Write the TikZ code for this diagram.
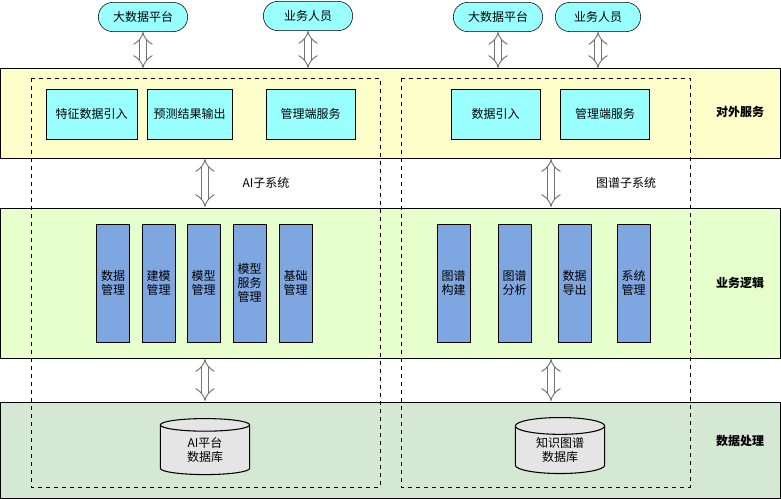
\documentclass[tikz,border=0pt]{standalone}
\usepackage{fontspec}
\setmainfont{Noto Sans CJK SC}
\usetikzlibrary{arrows.meta,shapes.geometric}
\definecolor{cy}{HTML}{99FFFF}
\definecolor{yel}{HTML}{FFFFCC}
\definecolor{lg}{HTML}{E6FFCC}
\definecolor{dg}{HTML}{D5E8D4}
\definecolor{bl}{HTML}{7EA6E0}
\begin{document}
\begin{tikzpicture}[x=0.75pt,y=-0.75pt,font=\fontsize{9pt}{10.5pt}\selectfont,
 band/.style={draw,line width=0.6pt},
 pill/.style={draw,fill=cy,rounded corners=11pt,minimum width=67pt,minimum height=22pt,inner sep=0pt},
 top/.style={draw,fill=cy,minimum height=37.5pt,inner sep=0pt},
 vb/.style={draw,fill=bl,minimum width=24.75pt,minimum height=88.5pt,inner sep=0pt,align=center},
 dbox/.style={draw,dashed,line width=0.5pt},
 darr/.style={draw=black!55,double=white,double distance=4.5pt,line width=0.7pt,{Implies[length=5pt,width=10pt]}-{Implies[length=5pt,width=10pt]}},
 db/.style={cylinder,shape border rotate=90,aspect=0.35,draw,fill=black!10,line width=0.8pt,minimum width=67pt,minimum height=42pt,align=center,inner sep=0pt},
 lab/.style={font=\fontsize{9pt}{10.5pt}\selectfont\bfseries}]
\useasboundingbox (0,0) rectangle (781,499);
\path[band,fill=yel] (0,68) rectangle (780,158);
\path[band,fill=lg] (0,208) rectangle (780,358);
\path[band,fill=dg] (0,402) rectangle (780,498);
\path[dbox] (31,78) rectangle (380,487);
\path[dbox] (401,78) rectangle (690,487);
\node[pill] (p1) at (143,17) {大数据平台};
\node[pill] (p2) at (308,16) {业务人员};
\node[pill] (p3) at (498,17) {大数据平台};
\node[pill,minimum width=64pt] (p4) at (598,17) {业务人员};
\node[top,minimum width=68pt] (t1) at (91.5,114) {特征数据引入};
\node[top,minimum width=64pt] (t2) at (189.5,114) {预测结果输出};
\node[top,minimum width=67pt] (t3) at (310.5,114) {管理端服务};
\node[top,minimum width=67pt] (t4) at (495.5,114) {数据引入};
\node[top,minimum width=67pt] (t5) at (605,114) {管理端服务};
\coordinate (a1) at (143,68); \coordinate (a2) at (308,68);
\coordinate (a3) at (498,68); \coordinate (a4) at (598,68);
\draw[darr] (p1.south) -- (a1);
\draw[darr] (p2.south) -- (a2);
\draw[darr] (p3.south) -- (a3);
\draw[darr] (p4.south) -- (a4);
\coordinate (m1) at (205,159); \coordinate (m2) at (205,207);
\coordinate (m3) at (551,159); \coordinate (m4) at (551,207);
\coordinate (l1) at (205,359); \coordinate (l2) at (205,401);
\coordinate (l3) at (551,359); \coordinate (l4) at (551,401);
\draw[darr] (m1) -- (m2); \draw[darr] (m3) -- (m4);
\draw[darr] (l1) -- (l2); \draw[darr] (l3) -- (l4);
\node (s1) at (266,183) {AI子系统};
\node (s2) at (626,183) {图谱子系统};
\node[vb] (v1) at (113,283) {数据\\管理};
\node[vb] (v2) at (158.5,283) {建模\\管理};
\node[vb] (v3) at (203.5,283) {模型\\管理};
\node[vb] (v4) at (249.5,283) {模型\\服务\\管理};
\node[vb] (v5) at (295.5,283) {基础\\管理};
\node[vb] (v6) at (453.5,283) {图谱\\构建};
\node[vb] (v7) at (514.5,283) {图谱\\分析};
\node[vb] (v8) at (574.5,283) {数据\\导出};
\node[vb] (v9) at (633.5,283) {系统\\管理};
\node[db] (d1) at (205,450) {AI平台\\数据库};
\node[db] (d2) at (560,450) {知识图谱\\数据库};
\node[lab] (k1) at (740,112) {对外服务};
\node[lab] (k2) at (740,283) {业务逻辑};
\node[lab] (k3) at (740,441) {数据处理};
\end{tikzpicture}
\end{document}
